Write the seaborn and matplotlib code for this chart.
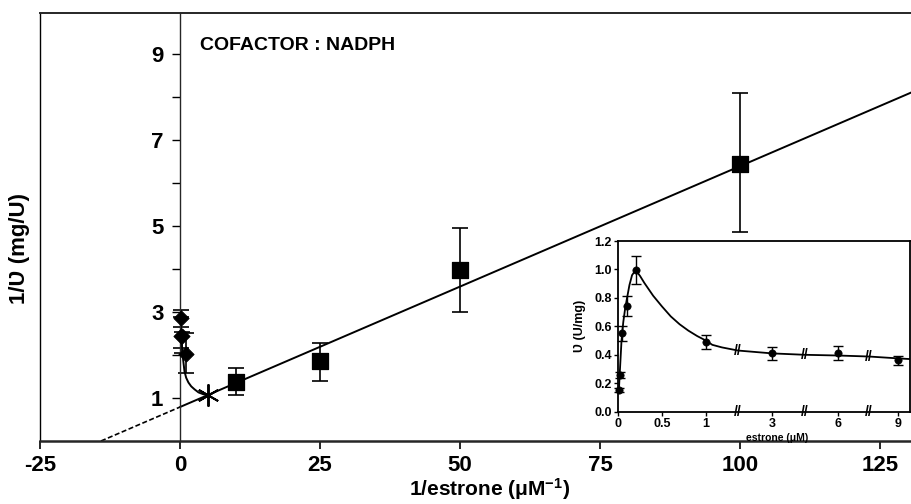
import numpy as np
import pandas as pd
import matplotlib
matplotlib.use("Agg")
import matplotlib.pyplot as plt
import seaborn as sns

# ---------------- data ----------------
# main Lineweaver-Burk plot: squares (low estrone)
sq_x = [10, 25, 50, 100]
sq_y = [1.36, 1.85, 3.98, 6.43]
sq_lo = [1.08, 1.40, 3.00, 4.85]
sq_hi = [1.69, 2.28, 4.95, 8.09]

# diamonds (high estrone, near 1/S = 0)
di_x = [0.11, 0.17, 0.33, 1.0]
di_y = [2.86, 2.44, 2.44, 2.02]
di_lo = [2.66, 2.16, 2.05, 1.57]
di_hi = [3.05, 2.89, 2.54, 2.50]

# asterisk point (1/S = 5)
star_x = [5.0]
star_y = [1.06]

# fitted straight line
lb_intercept = 0.79
lb_slope = 0.056

# substrate inhibition curve in reciprocal plot
inh_x = [0.11, 0.2, 0.35, 0.55, 0.8, 1.1, 1.5, 2.0, 2.6, 3.3, 4.1, 5.0]
inh_y = [2.90, 2.50, 2.20, 1.90, 1.62, 1.47, 1.36, 1.27, 1.20, 1.13, 1.09, 1.06]

# inset: velocity vs estrone
ins_conc = [0.01, 0.02, 0.04, 0.1, 0.2, 1, 3, 6, 9]
ins_v = [0.155, 0.26, 0.55, 0.74, 0.995, 0.49, 0.41, 0.41, 0.36]
ins_err = [0.015, 0.02, 0.05, 0.07, 0.10, 0.05, 0.045, 0.05, 0.03]

ins_curve_c = [0.01, 0.02, 0.04, 0.06, 0.08, 0.1, 0.13, 0.16, 0.2, 0.25, 0.3, 0.4,
               0.5, 0.6, 0.7, 0.8, 0.9, 1.0, 1.2, 1.5, 2.0, 3.0, 4.5, 6.0, 7.5, 9.0, 9.64]
ins_curve_v = [0.15, 0.27, 0.50, 0.63, 0.72, 0.79, 0.89, 0.96, 0.995, 0.955, 0.905, 0.815,
               0.74, 0.67, 0.615, 0.57, 0.532, 0.50, 0.47, 0.452, 0.43, 0.41, 0.40, 0.395, 0.388, 0.375, 0.37]

ins_xticks = [0, 0.5, 1, 3, 6, 9]
ins_xticklabels = ["0", "0.5", "1", "3", "6", "9"]
ins_breaks = [2.0, 4.5, 7.5]

main_xticks = [-25, 0, 25, 50, 75, 100, 125]
main_yticks = [1, 3, 5, 7, 9]
main_yminor = [2, 4, 6, 8]

# ---------------- style ----------------
sns.set_theme(style="ticks")
plt.rcParams["font.family"] = ["Liberation Sans", "DejaVu Sans"]
plt.rcParams["font.weight"] = "bold"
plt.rcParams["mathtext.fontset"] = "custom"
plt.rcParams["mathtext.rm"] = "Liberation Sans:bold"
plt.rcParams["mathtext.default"] = "rm"

fig = plt.figure(figsize=(9.12, 5.04), dpi=100)
fig.patch.set_facecolor("white")

# ---------------- main axes ----------------
ax = fig.add_axes([40 / 912, 63 / 504, 872 / 912, 428 / 504])
ax.set_facecolor("white")
xmin, xmax = -25, 130.7
ax.set_xlim(xmin, xmax)
ax.set_ylim(0, 9.95)

ax.spines["left"].set_position(("data", 0))
ax.spines["left"].set_linewidth(1.0)
ax.spines["right"].set_visible(False)
ax.spines["top"].set_linewidth(1.4)
ax.spines["bottom"].set_linewidth(1.8)
ax.plot([0, 0], [0, 1], transform=ax.transAxes, color="black", lw=1.0, clip_on=False)

# straight fitted line
x_int = -lb_intercept / lb_slope
line_df = pd.DataFrame({"x": [x_int, 0.0], "y": [0.0, lb_intercept]})
sns.lineplot(data=line_df, x="x", y="y", ax=ax, color="black", lw=1.2,
             linestyle=(0, (3, 1.5)), sort=False)
line_df2 = pd.DataFrame({"x": [0.0, xmax], "y": [lb_intercept, lb_intercept + lb_slope * xmax]})
sns.lineplot(data=line_df2, x="x", y="y", ax=ax, color="black", lw=1.4, sort=False)

# inhibition curve
inh_df = pd.DataFrame({"x": inh_x, "y": inh_y})
sns.lineplot(data=inh_df, x="x", y="y", ax=ax, color="black", lw=1.4, sort=False)

# error bars
sq_x_a, sq_y_a = np.array(sq_x), np.array(sq_y)
ax.errorbar(sq_x_a, sq_y_a, yerr=[sq_y_a - np.array(sq_lo), np.array(sq_hi) - sq_y_a],
            fmt="none", ecolor="black", elinewidth=1.2, capsize=6, capthick=1.2)
di_x_a, di_y_a = np.array(di_x), np.array(di_y)
ax.errorbar(di_x_a, di_y_a, yerr=[di_y_a - np.array(di_lo), np.array(di_hi) - di_y_a],
            fmt="none", ecolor="black", elinewidth=1.2, capsize=6, capthick=1.2)

sns.scatterplot(x=sq_x, y=sq_y, ax=ax, marker="s", s=130, color="black",
                edgecolor="black", zorder=5)
sns.scatterplot(x=di_x, y=di_y, ax=ax, marker="D", s=60, color="black",
                edgecolor="black", zorder=5, clip_on=False)
ax.plot(star_x, star_y, marker=(6, 2, 0), markersize=16, mew=1.4, color="black",
        linestyle="none", zorder=6)

ax.set_xticks(main_xticks)
ax.set_xticklabels([str(t) for t in main_xticks], fontsize=16, fontweight="bold")
ax.set_yticks(main_yticks)
ax.set_yticks(main_yminor, minor=True)
ax.set_yticklabels([str(t) for t in main_yticks], fontsize=16, fontweight="bold")
ax.tick_params(axis="x", direction="out", length=6, width=1.2, pad=4, colors="black")
ax.tick_params(axis="y", which="both", direction="out", length=6, width=1.0, pad=6, colors="black")

ax.set_xlabel("1/estrone (μM$^{-1}$)", fontsize=15, fontweight="bold", color="black")
ax.xaxis.set_label_coords(0.515, -0.083)
ax.set_ylabel("1/Ʋ (mg/U)", fontsize=16, fontweight="bold", color="black")
ax.yaxis.set_label_coords(-0.012, 0.45)

ax.text(0.1835, 0.925, "COFACTOR : NADPH", transform=ax.transAxes, fontsize=14,
        fontweight="bold", va="center", ha="left", color="black")

# ---------------- inset ----------------
anchor_c = [0, 1, 2, 3, 4.5, 6, 7.5, 9, 10]
anchor_p = [0, 1, 1.364, 1.75, 2.125, 2.5, 2.852, 3.18, 3.40]


def fwd(x):
    return np.interp(x, anchor_c, anchor_p)


def inv(p):
    return np.interp(p, anchor_p, anchor_c)


ax2 = fig.add_axes([618 / 912, (504 - 411.7) / 504, 292 / 912, 170.7 / 504])
ax2.set_facecolor("white")
ax2.set_xscale("function", functions=(fwd, inv))
ax2.set_xlim(0, 9.64)
ax2.set_ylim(0, 1.2)
for sp in ax2.spines.values():
    sp.set_linewidth(1.3)
    sp.set_color("black")

cur_df = pd.DataFrame({"c": ins_curve_c, "v": ins_curve_v})
sns.lineplot(data=cur_df, x="c", y="v", ax=ax2, color="black", lw=1.3, sort=False)
ax2.errorbar(ins_conc, ins_v, yerr=ins_err, fmt="none", ecolor="black",
             elinewidth=1.0, capsize=3.5, capthick=1.0, clip_on=False)
sns.scatterplot(x=ins_conc, y=ins_v, ax=ax2, marker="o", s=28, color="black",
                edgecolor="black", zorder=5, clip_on=False)

for b in ins_breaks:
    ax2.text(b, 0.0, "//", ha="center", va="center", fontsize=10, fontweight="bold",
             color="black", clip_on=False)
    ax2.text(b, float(np.interp(b, ins_curve_c, ins_curve_v)), "//", ha="center",
             va="center", fontsize=10, fontweight="bold", color="black")

ax2.set_xticks(ins_xticks)
ax2.set_xticklabels(ins_xticklabels, fontsize=9, fontweight="bold")
ax2.xaxis.set_minor_locator(matplotlib.ticker.NullLocator())
yt = [0.0, 0.2, 0.4, 0.6, 0.8, 1.0, 1.2]
ax2.set_yticks(yt)
ax2.set_yticklabels([f"{t:.1f}" for t in yt], fontsize=9, fontweight="bold")
ax2.tick_params(axis="both", direction="out", length=3, width=1.0, pad=1.5, colors="black")
ax2.set_xlabel("estrone (μM)", fontsize=7.5, fontweight="bold", labelpad=0, color="black")
ax2.xaxis.set_label_coords(0.545, -0.125)
ax2.set_ylabel("Ʋ (U/mg)", fontsize=9, fontweight="bold", color="black")
ax2.yaxis.set_label_coords(-0.11, 0.5)

fig.savefig("out.png", dpi=100, facecolor="white")
